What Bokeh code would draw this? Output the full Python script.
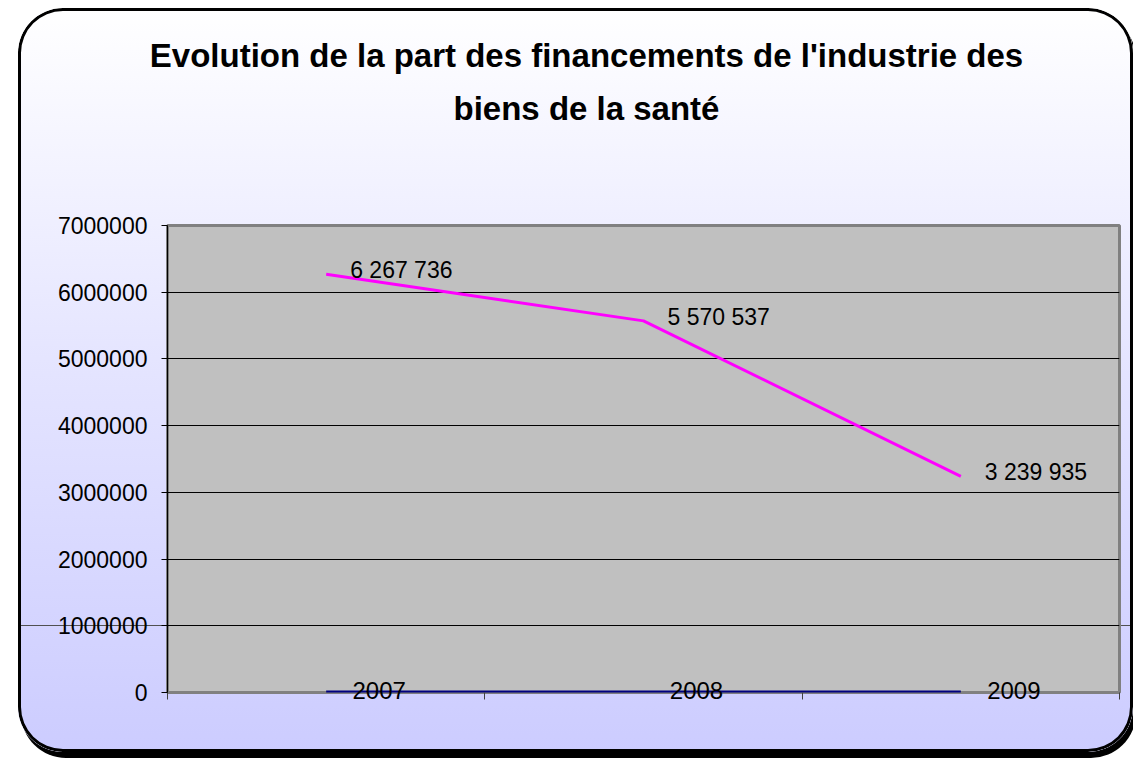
from bokeh.plotting import figure
from bokeh.models import (ColumnDataSource, LabelSet, FixedTicker, LinearAxis,
                          NumeralTickFormatter, Range1d, Div)
from bokeh.layouts import column
from bokeh.core.properties import value
from bokeh.embed import file_html
from bokeh.resources import INLINE

# ---- data ----
categories = ["2007", "2008", "2009"]
financements = [6267736, 5570537, 3239935]
second_series = [0, 0, 0]
title_lines = ["Evolution de la part des financements de l'industrie des",
               "biens de la santé"]
y_ticks = [0, 1000000, 2000000, 3000000, 4000000, 5000000, 6000000, 7000000]

FONT = "Liberation Sans"
TOTAL_W, TOTAL_H = 1115, 744
TITLE_H = 130
FRAME_W = 952
CAT_LABEL_SHIFT_PX = 53   # category labels sit right of the category centre

ncat = len(categories)
xs = [i + 0.5 for i in range(ncat)]
value_labels = [f"{v:,}".replace(",", " ") for v in financements]

src = ColumnDataSource(dict(x=xs, y=financements, lab=value_labels,
                            zero=second_series))

# ---- title (as a Div above the plot) ----
title_html = (
    f'<div style="box-sizing:border-box;width:{TOTAL_W}px;padding-left:22px;'
    f'padding-top:21px;text-align:center;'
    f'font-family:\'{FONT}\';font-weight:bold;font-size:33px;line-height:53px;'
    f'color:#000;white-space:nowrap;">{title_lines[0]}<br>{title_lines[1]}</div>'
)
title = Div(text=title_html, width=TOTAL_W, height=TITLE_H, margin=(0, 0, 0, 0))

# ---- figure ----
p = figure(width=TOTAL_W, height=TOTAL_H - TITLE_H, output_backend="svg",
           toolbar_location=None,
           x_range=Range1d(0, ncat), y_range=Range1d(0, 7000000),
           min_border_left=149, min_border_right=14, min_border_top=87,
           min_border_bottom=60)
p.margin = (0, 0, 0, 0)
p.border_fill_color = None
p.background_fill_color = "#C0C0C0"
p.outline_line_color = "#808080"
p.outline_line_width = 3

# y axis
p.yaxis.ticker = FixedTicker(ticks=y_ticks)
p.yaxis.formatter = NumeralTickFormatter(format="0")
p.yaxis.axis_line_color = "#000000"
p.yaxis.major_tick_line_color = "#000000"
p.yaxis.major_tick_out = 6
p.yaxis.major_tick_in = 0
p.yaxis.minor_tick_line_color = None
p.yaxis.major_label_text_font = FONT
p.yaxis.major_label_text_font_size = "23px"
p.yaxis.major_label_text_color = "#000000"
p.yaxis.major_label_standoff = 14

# x axis: category boundary ticks
p.xaxis.ticker = FixedTicker(ticks=list(range(ncat + 1)))
p.xaxis.axis_line_color = None
p.xaxis.major_tick_line_color = "#404040"
p.xaxis.major_tick_out = 7
p.xaxis.major_tick_in = 0
p.xaxis.minor_tick_line_color = None
p.xaxis.major_label_text_color = None
p.xaxis.major_label_text_font_size = "1px"
p.xaxis.major_label_standoff = 0

# x axis: category labels, drawn back up onto the zero line
shift = CAT_LABEL_SHIFT_PX * ncat / FRAME_W
lab_ticks = [x + shift for x in xs]
cat_axis = LinearAxis(ticker=FixedTicker(ticks=lab_ticks),
                      major_label_overrides={t: c for t, c in zip(lab_ticks, categories)},
                      axis_line_color=None, major_tick_line_color=None,
                      minor_tick_line_color=None, major_tick_out=0, major_tick_in=0,
                      major_label_standoff=-18,
                      major_label_text_font=FONT, major_label_text_font_size="24px",
                      major_label_text_color="#000000")
p.add_layout(cat_axis, "below")

p.xgrid.grid_line_color = None
p.ygrid.ticker = FixedTicker(ticks=y_ticks)
p.ygrid.grid_line_color = "#000000"
p.ygrid.grid_line_width = 1

# series
p.line("x", "zero", source=src, line_color="#000080", line_width=4)
p.line("x", "y", source=src, line_color="#FF00FF", line_width=3)

# value labels
p.add_layout(LabelSet(x="x", y="y", text="lab", source=src, x_offset=24, y_offset=4,
                      text_align="left", text_baseline="middle",
                      text_font=value(FONT), text_font_size=value("23px"),
                      text_color="#000000"))

layout = column(title, p, spacing=0, width=TOTAL_W, height=TOTAL_H)
layout.styles = {
    "margin-left": "18px",
    "margin-top": "8px",
    "background": ("linear-gradient(to bottom, transparent 617px, #505050 617px, "
                   "#505050 618px, transparent 618px), "
                   "linear-gradient(to bottom, #FFFFFF 0%, #E6E6FF 45%, #CCCCFF 100%)"),
    "border-radius": "45px",
    "box-shadow": "inset 0 0 0 3px #000000, 3px 6px 0 #000000",
}

open("out.html", "w").write(file_html(layout, INLINE))
